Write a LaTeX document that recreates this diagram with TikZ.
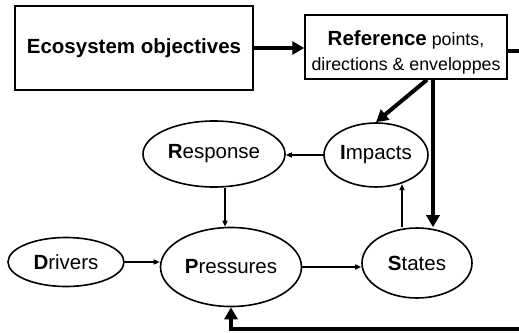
\documentclass[tikz,border=0pt]{standalone}
\usepackage{fontspec}
\setmainfont{Liberation Sans}
\usetikzlibrary{positioning,arrows.meta,shapes.geometric}

\begin{document}
\begin{tikzpicture}[x=1pt,y=-1pt,
  bigfont/.style={font=\fontsize{20.5}{24}\selectfont},
  goalbox/.style={draw,line width=1.5pt,inner sep=0pt},
  dpsir/.style={ellipse,draw,line width=1.6pt,inner sep=0pt,bigfont},
  flow/.style={-{Triangle[length=6pt,width=5pt]},line width=1.3pt},
  steer/.style={-{Triangle[length=12pt,width=13pt]},line width=4pt}]
\useasboundingbox (0,0) rectangle (519,332);
\node[goalbox,bigfont,minimum width=238pt,minimum height=84pt] (eco) at (134,48) {\textbf{Ecosystem objectives}};
\node[goalbox,minimum width=202pt,minimum height=64pt] (ref) at (406,47) {};
\node[align=center,font=\fontsize{17.8}{25}\selectfont] (reftxt) at ([yshift=-5pt]ref.center) {{\fontsize{20.5}{25}\selectfont\textbf{Reference}} points,\\directions \& enveloppes};
\node[dpsir,minimum width=142pt,minimum height=66pt] (response) at (214,154) {\textbf{R}esponse};
\node[dpsir,minimum width=104pt,minimum height=64pt] (impacts) at (376,155) {\textbf{I}mpacts};
\node[dpsir,minimum width=116pt,minimum height=49pt] (drivers) at (66,262) {\textbf{D}rivers};
\node[dpsir,minimum width=141pt,minimum height=79pt] (pressures) at (231,267) {\textbf{P}ressures};
\node[dpsir,minimum width=110pt,minimum height=70pt] (states) at (417,263) {\textbf{S}tates};
\draw[steer] (eco.east) -- (eco.east -| ref.west);
\draw[steer] ([xshift=21pt]ref.south) -- (impacts.north);
\draw[steer] ([xshift=27pt]ref.south) -- ([xshift=27pt]ref.south |- states.north);
\draw[steer] ([yshift=-4pt]ref.east) -- ++(40,0) |- ([yshift=-22pt]pressures.south) -- (pressures.south);
\draw[flow] (impacts.west) -- (impacts.west -| response.east);
\draw[flow] ([xshift=11pt]response.south) -- ([xshift=11pt]response.south |- pressures.north);
\draw[flow] (drivers.east) -- (drivers.east -| pressures.west);
\draw[flow] (pressures.east) -- (pressures.east -| states.west);
\draw[flow] ([xshift=-15pt]states.north) -- ++(0,-43);
\end{tikzpicture}
\end{document}
